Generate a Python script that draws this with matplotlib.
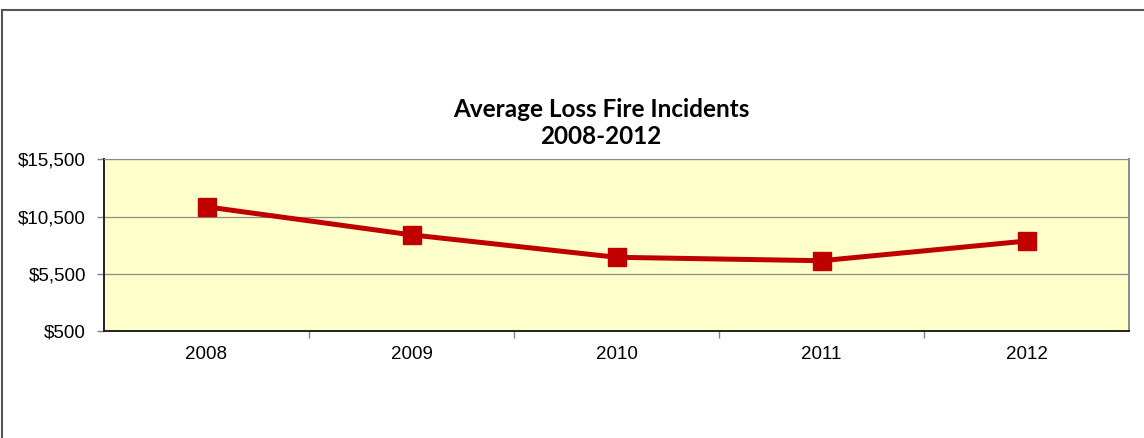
import matplotlib
matplotlib.use("Agg")
import matplotlib.pyplot as plt
from matplotlib.lines import Line2D
from matplotlib.ticker import FixedLocator, FuncFormatter

# ── Data ─────────────────────────────────────────────────────────────────────
YEARS = ["2008", "2009", "2010", "2011", "2012"]
AVG_LOSS = [11350, 8900, 6940, 6640, 8360]
Y_TICKS = [500, 5500, 10500, 15500]

W, H = 1144, 438
fig = plt.figure(figsize=(W / 100, H / 100), dpi=100)
fig.patch.set_facecolor("white")

# axes placed in pixel terms
ax = fig.add_axes([104 / W, (H - 331) / H, (1129 - 104) / W, (331 - 159.3) / H])
ax.set_facecolor("#FFFFCC")

x = list(range(len(YEARS)))
ax.plot(x, AVG_LOSS, color="#C00000", linewidth=3.6, marker="s",
        markersize=13, markerfacecolor="#C00000", markeredgecolor="#C00000",
        zorder=3)

ax.set_xlim(-0.5, len(YEARS) - 0.5)
ax.set_ylim(Y_TICKS[0], Y_TICKS[-1])
ax.yaxis.set_major_locator(FixedLocator(Y_TICKS))
ax.yaxis.set_major_formatter(FuncFormatter(lambda v, _: f"${v:,.0f}"))
ax.grid(axis="y", color="#8C8C8C", linewidth=0.9)
ax.set_axisbelow(True)

# category labels centered, ticks on the boundaries
ax.set_xticks(x)
ax.set_xticklabels(YEARS)
ax.tick_params(axis="x", which="major", length=0, pad=11)
ax.set_xticks([i + 0.5 for i in x[:-1]], minor=True)
ax.tick_params(axis="x", which="minor", length=5, color="#808080", width=1)
ax.tick_params(axis="y", length=5, width=1, color="#808080", pad=8)

for lab in ax.get_xticklabels() + ax.get_yticklabels():
    lab.set_fontfamily("Liberation Sans")
    lab.set_fontsize(13.5)

ax.spines["left"].set_color("#222222")
ax.spines["bottom"].set_color("#222222")
ax.spines["left"].set_linewidth(1.4)
ax.spines["bottom"].set_linewidth(1.4)
ax.spines["top"].set_color("#8C8C8C")
ax.spines["right"].set_color("#8C8C8C")
ax.spines["right"].set_linewidth(1.4)

fig.text(601 / W, 1 - 123 / H, "Average Loss Fire Incidents\n2008-2012",
         ha="center", va="center", fontsize=17.5, fontweight="bold",
         family=["Lato", "DejaVu Sans"], linespacing=1.17)

# chart area border (top and left edges visible)
fig.add_artist(Line2D([2 / W, 2 / W], [0, 1 - 10 / H], color="#555555",
                      linewidth=1.5, transform=fig.transFigure))
fig.add_artist(Line2D([2 / W, 1], [1 - 10 / H, 1 - 10 / H], color="#555555",
                      linewidth=1.5, transform=fig.transFigure))

fig.savefig("out.png", dpi=100)
